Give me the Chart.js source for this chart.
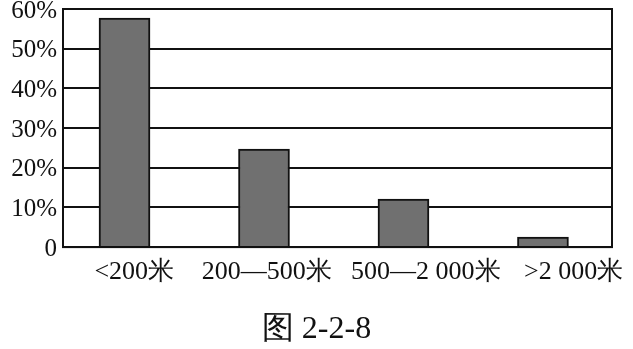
<!DOCTYPE html>
<html>
<head>
<meta charset="utf-8">
<script src="https://cdn.jsdelivr.net/npm/chart.js@4/dist/chart.umd.min.js"></script>
<style>
  html, body { margin: 0; padding: 0; background: #fff; }
  #wrap { width: 633px; height: 349px; }
</style>
</head>
<body>
<div id="wrap"><canvas id="altChart"></canvas></div>
<script>
// share of area by altitude band (%)
const categories = ['<200米', '200—500米', '500—2 000米', '>2 000米'];
const shares = [57.7, 24.7, 12.1, 2.5];
const yTickLabels = ['0', '10%', '20%', '30%', '40%', '50%', '60%'];
const caption = '图 2-2-8';

// label positions sit a little right of each bar in the original print
const labelShift = [0.07, 0.02, 0.16, 0.22];

const serif = "'Liberation Serif', 'Times New Roman', serif";
const ink = '#111';

const framePlugin = {
    id: 'frame',
    afterDatasetsDraw(chart) {
        const a = chart.chartArea;
        const ctx = chart.ctx;
        ctx.save();
        ctx.strokeStyle = ink;
        ctx.lineWidth = 2;
        ctx.strokeRect(a.left, a.top, a.right - a.left, a.bottom - a.top);
        ctx.restore();
    }
};

document.addEventListener("DOMContentLoaded", () => {
    const ctx = document.getElementById('altChart').getContext('2d');
    new Chart(ctx, {
        type: 'bar',
        data: {
            datasets: [{
                data: shares.map((v, i) => ({ x: i, y: v })),
                backgroundColor: '#707070',
                borderColor: ink,
                borderWidth: 2,
                barThickness: 51
            }]
        },
        options: {
            responsive: true,
            maintainAspectRatio: false,
            animation: false,
            layout: { padding: { left: 0, right: 0, top: 9, bottom: 0 } },
            plugins: {
                legend: { display: false },
                tooltip: { enabled: false },
                title: {
                    display: true,
                    position: 'bottom',
                    text: caption,
                    color: ink,
                    font: { family: serif, size: 32, weight: 'normal' },
                    padding: { top: 0, bottom: 0 }
                }
            },
            scales: {
                x: {
                    type: 'linear',
                    offset: false,
                    min: -0.441,
                    max: 3.495,
                    grid: { display: false, drawTicks: false, offset: false },
                    border: { display: true, color: ink, width: 2 },
                    afterBuildTicks: s => {
                        s.ticks = categories.map((c, i) => ({ value: i + labelShift[i] }));
                    },
                    afterFit: s => { s.height = 63.5; s.paddingLeft = 0; s.paddingRight = 0; },
                    ticks: {
                        color: ink,
                        padding: 9,
                        maxRotation: 0,
                        autoSkip: false,
                        font: { family: serif, size: 26 },
                        callback: (v, i) => categories[i]
                    }
                },
                y: {
                    min: 0,
                    max: 60,
                    grid: { color: ink, lineWidth: 2, drawTicks: false },
                    border: { display: true, color: ink, width: 2 },
                    afterFit: s => { s.width = 63; s.paddingTop = 0; s.paddingBottom = 0; },
                    ticks: {
                        stepSize: 10,
                        color: ink,
                        padding: 6,
                        labelOffset: 2,
                        font: { family: serif, size: 25 },
                        callback: (v, i) => yTickLabels[i]
                    }
                },
                yRight: {
                    position: 'right',
                    min: 0,
                    max: 60,
                    grid: { display: false, drawTicks: false },
                    border: { display: false },
                    ticks: { display: false },
                    afterFit: s => { s.width = 21; s.paddingTop = 0; s.paddingBottom = 0; }
                }
            }
        },
        plugins: [framePlugin]
    });
});
</script>
</body>
</html>
